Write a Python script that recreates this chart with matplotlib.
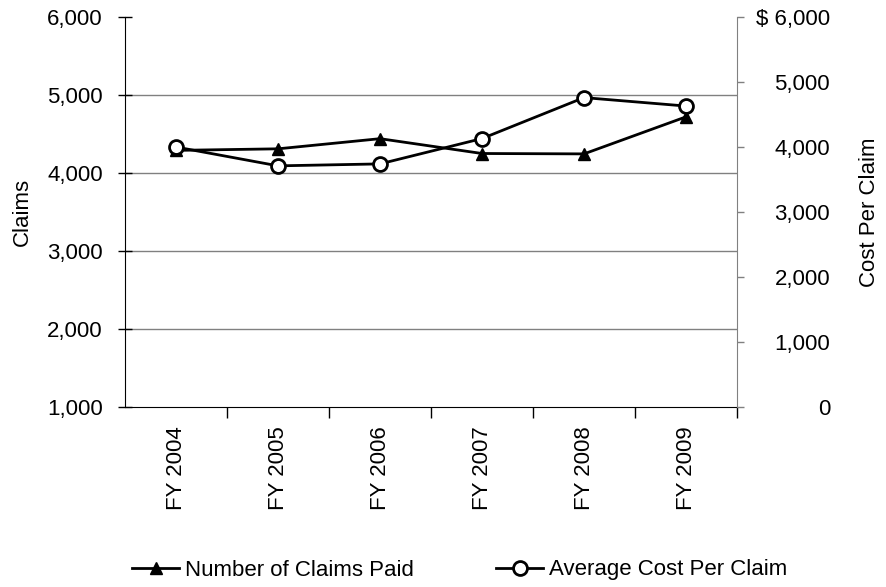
import numpy as np
import matplotlib.pyplot as plt
from matplotlib.ticker import FuncFormatter, FixedLocator

plt.rcParams['font.family'] = ['Liberation Sans', 'DejaVu Sans']

# Dane
lata = ['FY 2004', 'FY 2005', 'FY 2006', 'FY 2007', 'FY 2008', 'FY 2009']
liczba_roszczen = [4290, 4310, 4440, 4250, 4245, 4720]
sredni_koszt = [4000, 3710, 3740, 4130, 4760, 4630]

fs = 16

fig = plt.figure(figsize=(8.86, 5.87), dpi=100)
ax = fig.add_axes([125/886, 1 - 407/587, (737-125)/886, (407-17)/587])
ax2 = ax.twinx()

x = np.arange(len(lata))

# Lewa oś - liczba roszczeń
l1, = ax.plot(x, liczba_roszczen, color='black', lw=2, marker='^', ms=9,
              markerfacecolor='black', markeredgecolor='black', zorder=3,
              label='Number of Claims Paid')
ax.set_ylim(1000, 6000)
ax.set_xlim(-0.5, len(lata) - 0.5)
ax.set_yticks(np.arange(1000, 6001, 1000))
ax.yaxis.set_major_formatter(FuncFormatter(lambda v, p: f'{int(v):,}'))
ax.tick_params(axis='y', direction='inout', length=10, width=1, labelsize=fs, pad=11)
ax.set_ylabel('Claims', fontsize=fs, labelpad=10)
for y in range(2000, 6000, 1000):
    ax.axhline(y, color='#808080', lw=1, zorder=1)

ax.set_xticks(x)
ax.set_xticklabels(lata, rotation=90, fontsize=fs)
ax.tick_params(axis='x', which='major', length=0, pad=14)
ax.xaxis.set_minor_locator(FixedLocator(np.arange(0.5, len(lata), 1.0)))
ax.tick_params(axis='x', which='minor', length=8, width=1, direction='out')

# Prawa oś - średni koszt
l2, = ax2.plot(x, sredni_koszt, color='black', lw=2, marker='o', ms=10,
               markerfacecolor='white', markeredgecolor='black', markeredgewidth=2,
               zorder=4, label='Average Cost Per Claim')
ax2.set_ylim(0, 6000)
ax2.set_yticks(np.arange(0, 6001, 1000))
ax2.yaxis.set_major_formatter(
    FuncFormatter(lambda v, p: f'$ {int(v):,}' if v == 6000 else f'{int(v):,}'))
ax2.tick_params(axis='y', direction='out', length=5, width=1, labelsize=fs, pad=62,
                color='#808080')
for lab in ax2.get_yticklabels():
    lab.set_horizontalalignment('right')
ax2.set_ylabel('Cost Per Claim', fontsize=fs, labelpad=21)

for a in (ax, ax2):
    a.spines['top'].set_visible(False)
ax2.spines['left'].set_visible(False)
ax2.spines['bottom'].set_visible(False)
ax2.spines['right'].set_color('#808080')
ax.spines['right'].set_visible(False)

fig.legend([l1, l2], ['Number of Claims Paid', 'Average Cost Per Claim'],
           loc='center', bbox_to_anchor=(0.519, 1 - 570/587), ncol=2, frameon=False,
           fontsize=fs, handlelength=2.1, handletextpad=0.27, columnspacing=3.7)

fig.savefig('out.png', dpi=100)
